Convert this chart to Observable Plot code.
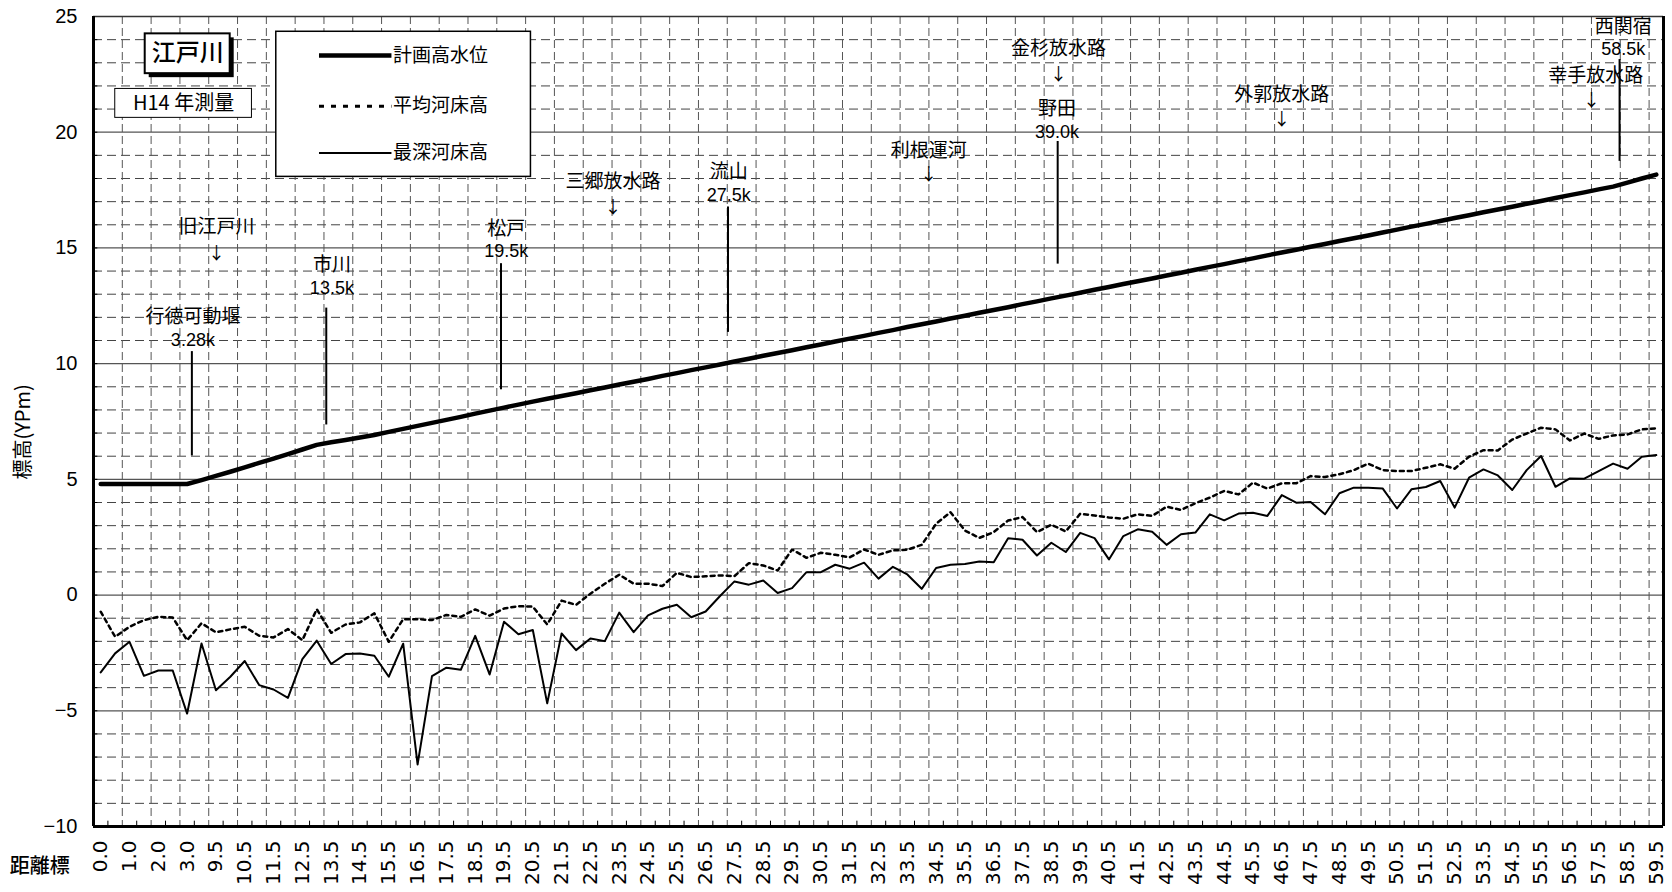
<!DOCTYPE html>
<html>
<head>
<meta charset="utf-8">
<script src="https://cdn.jsdelivr.net/npm/d3@7"></script>
<script src="https://cdn.jsdelivr.net/npm/@observablehq/plot@0.6"></script>
<style>
  html, body { margin: 0; padding: 0; background: #fff; }
  #chart { width: 1672px; height: 892px; overflow: hidden; }
</style>
</head>
<body>
<div id="chart"></div>
<script>
// ---- categories (距離標, km) ----
const distance = ["0.0","0.5","1.0","1.5","2.0","2.5","3.0","3.5",
  "9.5","10.0","10.5","11.0","11.5","12.0","12.5","13.0","13.5","14.0","14.5","15.0","15.5","16.0","16.5","17.0","17.5","18.0","18.5","19.0","19.5","20.0",
  "20.5","21.0","21.5","22.0","22.5","23.0","23.5","24.0","24.5","25.0","25.5","26.0","26.5","27.0","27.5","28.0","28.5","29.0","29.5","30.0",
  "30.5","31.0","31.5","32.0","32.5","33.0","33.5","34.0","34.5","35.0","35.5","36.0","36.5","37.0","37.5","38.0","38.5","39.0","39.5","40.0",
  "40.5","41.0","41.5","42.0","42.5","43.0","43.5","44.0","44.5","45.0","45.5","46.0","46.5","47.0","47.5","48.0","48.5","49.0","49.5","50.0",
  "50.5","51.0","51.5","52.0","52.5","53.0","53.5","54.0","54.5","55.0","55.5","56.0","56.5","57.0","57.5","58.0","58.5","59.0","59.5"];

// ---- series (標高 YPm) ----
const planHWL = [4.80,4.80,4.80,4.80,4.80,4.80,4.80,4.97,5.15,5.33,
  5.52,5.71,5.90,6.09,6.29,6.49,6.60,6.70,6.81,6.92,
  7.05,7.18,7.31,7.44,7.57,7.70,7.84,7.97,8.10,8.23,
  8.36,8.48,8.60,8.72,8.85,8.97,9.10,9.22,9.34,9.47,
  9.59,9.72,9.84,9.96,10.09,10.21,10.34,10.46,10.58,10.71,
  10.83,10.96,11.08,11.20,11.33,11.45,11.58,11.70,11.82,11.95,
  12.07,12.20,12.32,12.44,12.57,12.69,12.82,12.94,13.06,13.19,
  13.31,13.44,13.56,13.68,13.81,13.93,14.06,14.18,14.30,14.43,
  14.55,14.68,14.80,14.92,15.05,15.17,15.30,15.42,15.54,15.67,
  15.79,15.92,16.04,16.16,16.29,16.41,16.54,16.66,16.78,16.91,
  17.03,17.16,17.28,17.40,17.53,17.65,17.82,18.00,18.17];

const meanBed = [-0.72,-1.80,-1.37,-1.08,-0.94,-0.97,-1.95,-1.22,-1.61,-1.48,
  -1.37,-1.76,-1.83,-1.47,-1.95,-0.61,-1.63,-1.27,-1.18,-0.79,
  -2.02,-1.04,-1.04,-1.08,-0.86,-0.94,-0.62,-0.89,-0.58,-0.48,
  -0.50,-1.27,-0.24,-0.42,0.06,0.49,0.88,0.49,0.49,0.39,
  0.96,0.78,0.81,0.85,0.82,1.38,1.28,1.06,1.97,1.61,
  1.83,1.74,1.63,1.97,1.74,1.93,1.96,2.17,3.08,3.58,
  2.79,2.47,2.72,3.22,3.37,2.72,3.04,2.75,3.51,3.44,
  3.35,3.30,3.49,3.42,3.82,3.68,3.97,4.21,4.50,4.35,
  4.86,4.60,4.83,4.83,5.14,5.10,5.22,5.40,5.68,5.40,
  5.36,5.36,5.50,5.65,5.46,5.98,6.26,6.25,6.72,6.98,
  7.23,7.16,6.68,6.98,6.75,6.90,6.94,7.16,7.20];

const deepBed = [-3.34,-2.52,-2.02,-3.49,-3.26,-3.26,-5.12,-2.09,-4.11,-3.53,
  -2.85,-3.89,-4.08,-4.44,-2.77,-1.97,-2.98,-2.55,-2.52,-2.62,
  -3.53,-2.10,-7.32,-3.50,-3.14,-3.23,-1.76,-3.43,-1.15,-1.69,
  -1.51,-4.68,-1.66,-2.38,-1.88,-1.99,-0.76,-1.60,-0.88,-0.59,
  -0.42,-0.96,-0.71,-0.04,0.59,0.45,0.63,0.09,0.30,0.99,
  0.99,1.31,1.14,1.40,0.71,1.22,0.89,0.27,1.17,1.31,
  1.34,1.45,1.42,2.46,2.39,1.71,2.26,1.86,2.69,2.46,
  1.54,2.55,2.84,2.74,2.17,2.63,2.70,3.49,3.23,3.52,
  3.56,3.42,4.32,3.99,4.02,3.49,4.40,4.64,4.64,4.61,
  3.74,4.57,4.67,4.93,3.78,5.07,5.43,5.17,4.54,5.40,
  6.01,4.68,5.04,5.03,5.36,5.68,5.46,5.98,6.05];

const seriesNames = ["計画高水位", "平均河床高", "最深河床高"];
const yTickLabels = [-10, -5, 0, 5, 10, 15, 20, 25];

// ---- annotations: places with km post ----
const placeNames = ["行徳可動堰", "市川", "松戸", "流山", "野田", "西関宿"];
const placeKm    = ["3.28k", "13.5k", "19.5k", "27.5k", "39.0k", "58.5k"];
const placeTextX = [6.9, 16.55, 28.66, 44.1, 66.9, 106.2];
const placeLineX = [6.83, 16.16, 28.29, 44.05, 66.94, 105.95];
const placeNameY = [12.04, 14.27, 15.82, 18.27, 21.0, 24.55];
const placeKmY   = [11.03, 13.27, 14.85, 17.27, 20.0, 23.6];
const placeTopY  = [10.52, 12.40, 14.32, 16.77, 19.6, 23.14];
const placeBotY  = [6.01, 7.35, 8.87, 11.35, 14.3, 18.74];

// ---- annotations: waterways with arrows ----
const wayNames  = ["旧江戸川", "三郷放水路", "利根運河", "金杉放水路", "外郭放水路", "幸手放水路"];
const wayX      = [8.54, 36.07, 57.99, 67.0, 82.5, 104.3];
const wayArrowX = [8.54, 36.07, 57.99, 67.0, 82.5, 104.0];
const wayNameY  = [15.9, 17.84, 19.21, 23.58, 21.63, 22.45];
const wayArrowY = [14.75, 16.74, 18.15, 22.5, 20.54, 21.35];

// ---- build tables ----
const rows = distance.map((d, i) => ({i, d, hwl: planHWL[i], mean: meanBed[i], deep: deepBed[i]}));
const places = placeNames.map((n, i) => ({name: n, km: placeKm[i], tx: placeTextX[i], lx: placeLineX[i], ny: placeNameY[i], ky: placeKmY[i], top: placeTopY[i], bot: placeBotY[i]}));
const ways = wayNames.map((n, i) => ({name: n, x: wayX[i], ax: wayArrowX[i], ny: wayNameY[i], ay: wayArrowY[i]}));

const N = distance.length;
const xGrid = d3.range(2, N, 2);
const xMinor = d3.range(1, N, 2);
const yAll = d3.range(-9, 25);
const yMinor = yAll.filter(v => v % 5 !== 0);
const yMajor = yAll.filter(v => v % 5 === 0);
const xTickPos = d3.range(0, N, 2).map(i => i + 0.5);

const jp = "Noto Sans CJK JP";
const lat = "Liberation Sans";

// legend / boxes (in data coordinates of the plot)
const legendBox = [{x1: 12.69, x2: 30.37, y1: 18.07, y2: 24.34}];
const legendRows = [
  {name: seriesNames[0], y: 23.31},
  {name: seriesNames[1], y: 21.12},
  {name: seriesNames[2], y: 19.10}
];
const titleBox = [{x1: 3.59, x2: 9.49, y1: 22.53, y2: 24.25, tx: 6.54, ty: 23.39, text: "江戸川"}];
const surveyBox = [{x1: 1.51, x2: 11.0, y1: 20.62, y2: 21.87, tx: 6.25, ty: 21.25, text: "H14 年測量"}];

const chart = Plot.plot({
  width: 1672,
  height: 892,
  marginLeft: 93,
  marginRight: 9,
  marginTop: 16,
  marginBottom: 66,
  style: {fontFamily: lat, fontSize: "20px", background: "#fff", color: "#000"},
  x: {domain: [0, N]},
  y: {domain: [-10, 25]},
  marks: [
    // grid
    Plot.ruleY(yMinor, {stroke: "#444", strokeWidth: 1, strokeDasharray: "9,5"}),
    Plot.ruleX(xGrid, {stroke: "#555", strokeWidth: 1, strokeDasharray: "8,4"}),
    Plot.ruleY(yMajor, {stroke: "#555", strokeWidth: 1.3}),
    Plot.ruleY([25], {stroke: "#333", strokeWidth: 1.5}),
    // inner ticks
    Plot.ruleX(xMinor, {y1: -10, y2: -9.77, stroke: "#000", strokeWidth: 1}),
    Plot.ruleY(yAll, {x1: 0, x2: 0.3, stroke: "#000", strokeWidth: 1}),
    // frame
    Plot.ruleX([0], {stroke: "#000", strokeWidth: 3}),
    Plot.ruleX([N], {stroke: "#000", strokeWidth: 3}),
    Plot.ruleY([-10], {stroke: "#000", strokeWidth: 3}),
    // series
    Plot.line(rows, {x: d => d.i + 0.5, y: "mean", stroke: "#000", strokeWidth: 2.5, strokeDasharray: "4,4"}),
    Plot.line(rows, {x: d => d.i + 0.5, y: "deep", stroke: "#000", strokeWidth: 2}),
    Plot.line(rows, {x: d => d.i + 0.5, y: "hwl", stroke: "#000", strokeWidth: 4.5, strokeLinejoin: "round"}),
    // place annotations
    Plot.ruleX(places, {x: "lx", y1: "top", y2: "bot", stroke: "#000", strokeWidth: 2}),
    Plot.text(places, {x: "tx", y: "ny", text: "name", fontSize: 19, fontFamily: jp, fill: "#000"}),
    Plot.text(places, {x: "tx", y: "ky", text: "km", fontSize: 18, fontFamily: lat, fill: "#000"}),
    // waterway annotations
    Plot.text(ways, {x: "x", y: "ny", text: "name", fontSize: 19, fontFamily: jp, fill: "#000"}),
    Plot.text(ways, {x: "ax", y: "ay", text: () => "↓", fontSize: 17, fontFamily: jp, fill: "#000"}),
    // title box with shadow
    Plot.rect(titleBox, {x1: "x1", x2: "x2", y1: "y1", y2: "y2", fill: "#000", dx: 4, dy: 4}),
    Plot.rect(titleBox, {x1: "x1", x2: "x2", y1: "y1", y2: "y2", fill: "#fff", stroke: "#000", strokeWidth: 2}),
    Plot.text(titleBox, {x: "tx", y: "ty", text: "text", fontSize: 24, fontFamily: jp, fontWeight: 500, fill: "#000"}),
    // survey box
    Plot.rect(surveyBox, {x1: "x1", x2: "x2", y1: "y1", y2: "y2", fill: "#fff", stroke: "#000", strokeWidth: 1}),
    Plot.text(surveyBox, {x: "tx", y: "ty", text: "text", fontSize: 20, fontFamily: jp, fill: "#000"}),
    // legend
    Plot.rect(legendBox, {x1: "x1", x2: "x2", y1: "y1", y2: "y2", fill: "#fff", stroke: "#000", strokeWidth: 1.5}),
    Plot.ruleY([legendRows[0]], {y: "y", x1: 15.69, x2: 20.72, stroke: "#000", strokeWidth: 4.5}),
    Plot.ruleY([legendRows[1]], {y: "y", x1: 15.69, x2: 20.72, stroke: "#000", strokeWidth: 3, strokeDasharray: "5,7"}),
    Plot.ruleY([legendRows[2]], {y: "y", x1: 15.69, x2: 20.72, stroke: "#000", strokeWidth: 2}),
    Plot.text(legendRows, {x: 20.8, y: "y", text: "name", textAnchor: "start", fontSize: 19, fontFamily: jp, fill: "#000"}),
    // axes
    Plot.axisY(yTickLabels, {tickSize: 0, tickPadding: 16, fontSize: 20, fontFamily: lat, label: null}),
    Plot.axisX(xTickPos, {tickFormat: d => distance[Math.round(d - 0.5)], tickRotate: -90, tickSize: 0, tickPadding: 14, fontSize: 20, fontFamily: "DejaVu Sans", label: null}),
    // axis titles
    Plot.text(["標高(YPm)"], {x: -4.85, y: 7.05, text: d => d, rotate: -90, fontSize: 20, fontFamily: jp, fill: "#000"}),
    Plot.text(["距離標"], {x: -3.74, y: -11.72, text: d => d, fontSize: 20, fontFamily: jp, fontWeight: 500, fill: "#000"})
  ]
});
document.getElementById("chart").appendChild(chart);
</script>
</body>
</html>
